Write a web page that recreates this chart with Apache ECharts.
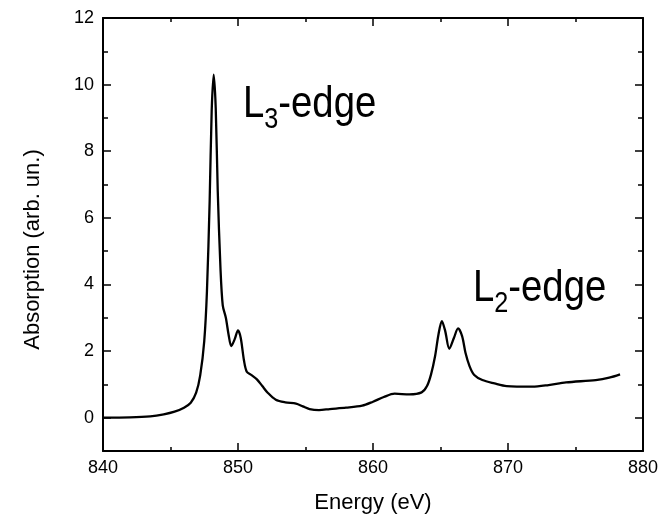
<!DOCTYPE html>
<html>
<head>
<meta charset="utf-8">
<script src="https://cdn.jsdelivr.net/npm/echarts@6/dist/echarts.min.js"></script>
<style>
  html, body { margin: 0; padding: 0; background: #fff; }
  #chart { width: 666px; height: 519px; }
</style>
</head>
<body>
<div id="chart"></div>
<script>
// L-edge absorption spectrum
var energy = [840, 842, 843.5, 844.5, 845.3, 846, 846.5, 846.9, 847.2, 847.5, 847.7, 847.9, 848.05, 848.2, 848.35, 848.5, 848.7, 848.87, 849.1, 849.3, 849.5, 849.75, 850.0, 850.2, 850.45, 850.65, 851.0, 851.4, 851.8, 852.2, 852.8, 853.5, 854.3, 854.8, 855.3, 856, 856.8, 858, 859.2, 860, 860.8, 861.6, 862.7, 863.6, 864.0, 864.3, 864.6, 864.85, 865.1, 865.35, 865.65, 866.0, 866.3, 866.6, 866.85, 867.15, 867.5, 868.1, 869, 869.9, 871.8, 873, 874.3, 876.5, 877.5, 878.3];
var absorption = [0, 0.01, 0.04, 0.1, 0.18, 0.3, 0.45, 0.75, 1.27, 2.3, 3.8, 6.5, 9.2, 10.3, 9.3, 6.8, 4.5, 3.37, 3.0, 2.5, 2.15, 2.35, 2.62, 2.4, 1.7, 1.38, 1.28, 1.15, 0.95, 0.75, 0.54, 0.46, 0.42, 0.34, 0.26, 0.23, 0.26, 0.3, 0.36, 0.48, 0.62, 0.72, 0.70, 0.76, 0.95, 1.3, 1.85, 2.5, 2.9, 2.6, 2.07, 2.4, 2.68, 2.45, 1.95, 1.55, 1.28, 1.13, 1.03, 0.95, 0.93, 0.98, 1.06, 1.13, 1.2, 1.3];
var yMajor = [0, 2, 4, 6, 8, 10, 12];
var yMinor = [-1, 1, 3, 5, 7, 9, 11];

var font = "'Liberation Sans', Arial, sans-serif";
var spectrum = [];
for (var i = 0; i < energy.length; i++) spectrum.push([energy[i], absorption[i]]);

function xAx(pos, lbl) {
    return {
        type: "value", position: pos, min: 840, max: 880, interval: 10,
        name: lbl ? "Energy (eV)" : "", nameLocation: "middle", nameGap: 41,
        nameTextStyle: {fontFamily: font, fontSize: 22, color: "#000"},
        axisLine: {show: true, onZero: false, lineStyle: {color: "#000", width: 2}},
        axisTick: {show: true, inside: true, length: 8, lineStyle: {color: "#000", width: 1.5}},
        minorTick: {show: true, splitNumber: 2, length: 4, lineStyle: {color: "#000", width: 1.5}},
        axisLabel: {show: lbl, margin: 8, fontFamily: font, fontSize: 18, color: "#000"},
        splitLine: {show: false}
    };
}
function yAx(pos, ticks, len, lbl, line) {
    return {
        type: "value", position: pos, min: -1, max: 12,
        name: lbl ? "Absorption (arb. un.)" : "", nameLocation: "middle", nameGap: 59,
        nameTextStyle: {fontFamily: font, fontSize: 22, color: "#000", padding: [0, 30, 0, 0]},
        axisLine: {show: line, onZero: false, lineStyle: {color: "#000", width: 2}},
        axisTick: {show: true, inside: true, length: len, customValues: ticks, lineStyle: {color: "#000", width: 1.5}},
        axisLabel: {show: lbl, customValues: yMajor, margin: 9, fontFamily: font, fontSize: 18, color: "#000"},
        splitLine: {show: false}
    };
}
function edgeLabel(x, y, sub) {
    var s = {fontFamily: font, fill: "#000", verticalAlign: "middle", align: "left"};
    return {
        type: "group", x: x, y: y, scaleX: 0.87, silent: true,
        children: [
            {type: "text", x: 0, y: 0, style: Object.assign({text: "L", fontSize: 44}, s)},
            {type: "text", x: 24.5, y: 15, style: Object.assign({text: sub, fontSize: 29}, s)},
            {type: "text", x: 40.6, y: 0, style: Object.assign({text: "-edge", fontSize: 44}, s)}
        ]
    };
}

var myChart = echarts.init(document.getElementById("chart"), null, {renderer: "canvas"});
myChart.setOption({
    animation: false,
    backgroundColor: "#fff",
    grid: {left: 103, right: 23, top: 18, bottom: 66},
    xAxis: [xAx("bottom", true), xAx("top", false)],
    yAxis: [yAx("left", yMajor, 8, true, true), yAx("left", yMinor, 5, false, false),
        yAx("right", yMajor, 8, false, true), yAx("right", yMinor, 5, false, false)],
    series: [{
        type: "line", data: spectrum, xAxisIndex: 0, yAxisIndex: 0,
        showSymbol: false, smooth: 0.3,
        lineStyle: {color: "#000", width: 2.3}
    }],
    graphic: [edgeLabel(243, 105, "3"), edgeLabel(473, 289, "2")]
});
</script>
</body>
</html>
